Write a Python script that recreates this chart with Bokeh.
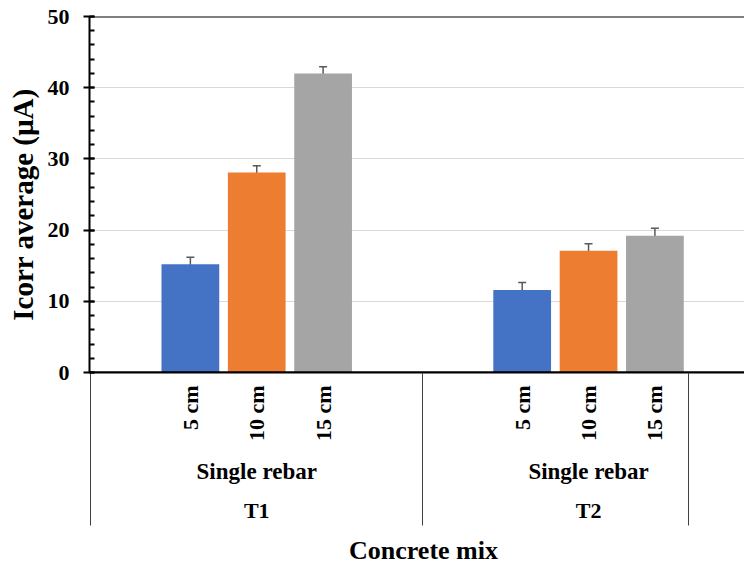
import math
from bokeh.plotting import figure
from bokeh.models import (ColumnDataSource, Range1d, FixedTicker, SingleIntervalTicker,
                          Whisker, TeeHead, Span, LinearAxis)
from bokeh.embed import file_html
from bokeh.resources import INLINE

# ---------------- data ----------------
mixes = ["T1", "T2"]
rebar_types = ["Single rebar", "Single rebar"]
covers = ["5 cm", "10 cm", "15 cm"]
icorr_T1 = [15.2, 28.1, 42.0]
icorr_T2 = [11.6, 17.1, 19.2]
err_T1 = [1.0, 0.95, 0.95]
err_T2 = [1.05, 1.0, 1.05]
y_ticks = [0, 10, 20, 30, 40, 50]
x_title = "Concrete mix"
y_title = "Icorr average (\u00b5A)"

colors = ["#4472C4", "#ED7D31", "#A5A5A5"]
FONT = "Liberation Serif"

# ---------------- layout ----------------
W, H = 744, 567
LEFT, TOP, BOTTOM = 89, 16, 195
FRAME_H = H - TOP - BOTTOM
FRAME_W = W - LEFT
SLOTS = 5  # slots per mix group (1 empty, 3 bars, 1 empty)
X0, X1 = -0.02, 9.85
Y0, Y1 = y_ticks[0], y_ticks[-1]
PX_X = (X1 - X0) / FRAME_W
PX_Y = (Y1 - Y0) / FRAME_H

xs, tops, uppers, lowers, cols, labs = [], [], [], [], [], []
for g, (vals, errs) in enumerate(zip([icorr_T1, icorr_T2], [err_T1, err_T2])):
    for i, (v, e) in enumerate(zip(vals, errs)):
        xs.append(g * SLOTS + 1.5 + i)
        tops.append(v)
        uppers.append(v + e)
        lowers.append(v - e)
        cols.append(colors[i])
        labs.append(covers[i])

src = ColumnDataSource(dict(x=xs, top=tops, upper=uppers, lower=lowers, color=cols))

p = figure(width=W, height=H, output_backend="svg", toolbar_location=None,
           x_range=Range1d(X0, X1), y_range=Range1d(Y0, Y1),
           min_border_left=LEFT, min_border_right=0, min_border_top=TOP,
           min_border_bottom=BOTTOM)
p.outline_line_color = None
p.background_fill_color = "white"
p.border_fill_color = "white"

# grid
p.xgrid.visible = False
p.ygrid.grid_line_color = "#D9D9D9"
p.ygrid.grid_line_width = 1
p.ygrid.ticker = FixedTicker(ticks=y_ticks[1:-1])

# bars
p.vbar(x="x", top="top", bottom=0, width=0.87, color="color", line_color=None, source=src)

# error bars
p.add_layout(Whisker(base="x", upper="upper", lower="lower", source=src,
                     line_color="#595959", line_width=1.5,
                     upper_head=TeeHead(size=8, line_color="#595959", line_width=1.5),
                     lower_head=TeeHead(size=8, line_color="#595959", line_width=1.5)))

# top border line at max and base line at 0
p.add_layout(Span(location=Y1, dimension="width", line_color="black", line_width=2))
p.add_layout(Span(location=Y0, dimension="width", line_color="black", line_width=2))


def text_style(ax, size):
    ax.major_label_text_font = FONT
    ax.major_label_text_font_style = "bold"
    ax.major_label_text_font_size = size
    ax.major_label_text_color = "black"


def text_axis(ticks, labels, size, standoff, minor=None):
    ax = LinearAxis(ticker=FixedTicker(ticks=ticks, minor_ticks=minor or []),
                    major_label_overrides=dict(zip(ticks, labels)))
    ax.axis_line_color = None
    ax.major_tick_line_color = None
    ax.major_tick_in = 0
    ax.major_tick_out = 0
    ax.minor_tick_in = 0
    ax.minor_tick_out = 0
    ax.minor_tick_line_color = None
    ax.major_label_standoff = standoff
    text_style(ax, size)
    return ax


# y axis
ya = p.yaxis[0]
ya.ticker = SingleIntervalTicker(interval=10, num_minor_ticks=5)
ya.axis_line_color = "black"
ya.axis_line_width = 2
ya.major_tick_out = 6
ya.major_tick_in = 5
ya.major_tick_line_width = 2
ya.major_tick_line_color = "black"
ya.minor_tick_in = 5
ya.minor_tick_out = 0
ya.minor_tick_line_width = 2
ya.minor_tick_line_color = "black"
ya.major_label_standoff = 14
text_style(ya, "22px")

# y title as a vertical label centred at the reference position
y_mid = Y0 + (372 - 204) * PX_Y
yt = text_axis([y_mid], [y_title], "29px", 6)
yt.major_label_orientation = "vertical"
p.add_layout(yt, "left")

# x axis: cover labels
xa = p.xaxis[0]
xa.ticker = FixedTicker(ticks=xs)
xa.major_label_overrides = dict(zip(xs, labs))
xa.major_label_orientation = math.pi / 2
xa.major_tick_in = 0
xa.major_tick_out = 0
xa.minor_tick_in = 0
xa.minor_tick_out = 0
xa.axis_line_color = "black"
xa.axis_line_width = 2
xa.major_label_standoff = 13
text_style(xa, "22px")

# second level: rebar type
centers = [g * SLOTS + SLOTS / 2 for g in range(len(mixes))]
p.add_layout(text_axis(centers, rebar_types, "23px", 14), "below")
# third level: mix
p.add_layout(text_axis(centers, mixes, "22px", 11), "below")
# x title, with the group separators drawn upward as minor ticks
sep = [g * SLOTS for g in range(len(mixes))] + [xs[-1] + 0.5]
title_x = X0 + (423 - LEFT) * PX_X
xt = text_axis([title_x], [x_title], "26px", 10, minor=sep)
xt.minor_tick_in = 153
xt.minor_tick_line_color = "#404040"
xt.minor_tick_line_width = 1
p.add_layout(xt, "below")

open("out.html", "w").write(file_html(p, INLINE))
